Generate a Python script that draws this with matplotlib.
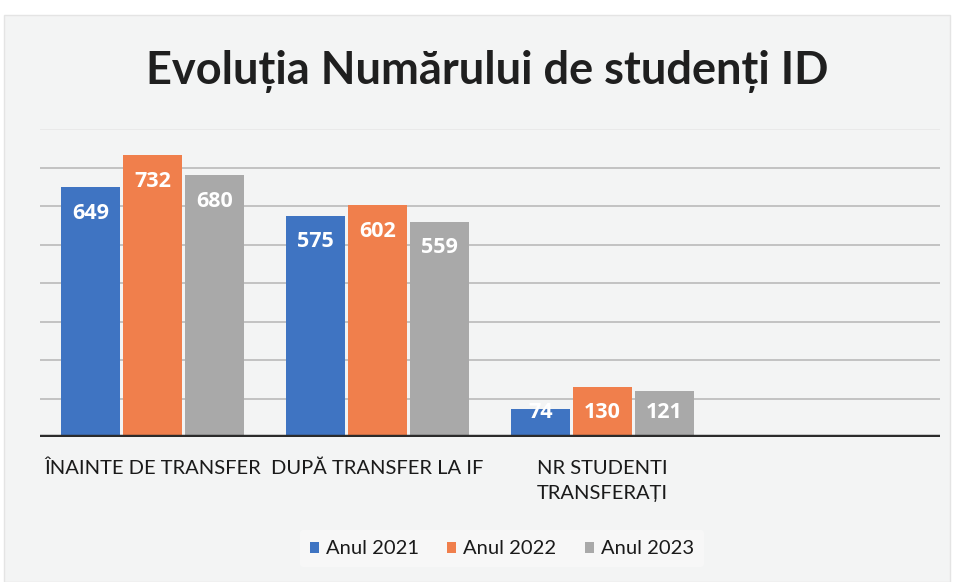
import matplotlib
matplotlib.use('Agg')

import numpy as np
import matplotlib.pyplot as plt
from matplotlib.patches import Rectangle

# chart data
categories = ["ÎNAINTE DE TRANSFER", "DUPĂ TRANSFER LA IF", "NR STUDENTI\nTRANSFERAȚI", ""]
series_names = ["Anul 2021", "Anul 2022", "Anul 2023"]
anul_2021 = [649, 575, 74]
anul_2022 = [732, 602, 130]
anul_2023 = [680, 559, 121]
colors = ["#3f74c2", "#f07f4c", "#a9a9a9"]

cal = ['Lato', 'DejaVu Sans']

fig = plt.figure(figsize=(9.56, 5.82), dpi=100, facecolor='white')
# chart area background (scan has a white margin at the top)
fig.patches.append(Rectangle((0.004, 0.0), 0.99, 0.975, transform=fig.transFigure,
                             facecolor='#f3f4f4', edgecolor='#e4e4e4', lw=1, zorder=-2))

ax = fig.add_axes([0.0418, 0.249, 0.9415, 0.529])
ax.set_facecolor('none')

x = np.arange(len(categories))
width = 0.262
step = 0.275
all_series = [anul_2021, anul_2022, anul_2023]
for i, (vals, name, c) in enumerate(zip(all_series, series_names, colors)):
    xs = x[:len(vals)] + (i - 1) * step
    ax.bar(xs, vals, width=width, color=c, label=name, zorder=3)
    for xi, v in zip(xs, vals):
        ax.text(xi, max(v - 67, 65), str(v), ha='center', va='center',
                color='white', fontsize=15.5, fontweight='bold',
                family=['Open Sans', 'DejaVu Sans'], zorder=4)

ax.set_xlim(-0.5, 3.5)
ax.set_ylim(0, 800)
ax.set_yticks(range(100, 801, 100))
ax.yaxis.grid(True, color='#b5b5b5', lw=1.1, zorder=0)
ax.get_ygridlines()[-1].set_color('#e6e6e6')
ax.axhline(0, color='#2b2b2b', lw=3.2, zorder=5)
ax.tick_params(axis='y', left=False, labelleft=False)
ax.tick_params(axis='x', bottom=False, pad=13)
ax.set_xticks(x)
ax.set_xticklabels(categories, fontsize=14.5, family=cal, color='#1a1a1a', linespacing=1.55)
for s in ax.spines.values():
    s.set_visible(False)

fig.text(0.51, 0.877, "Evoluția Numărului de studenți ID", ha='center', va='center',
         fontsize=32.5, fontweight='bold', family=cal, color='#1f1f1f')

leg = fig.legend(loc='center', bbox_to_anchor=(0.525, 0.057), ncol=3, frameon=True,
                 prop={'family': cal, 'size': 14.5}, handlelength=0.45, handleheight=0.45,
                 handletextpad=0.35, columnspacing=1.4, borderpad=0.5)
leg.get_frame().set_facecolor('#f9f9f9')
leg.get_frame().set_edgecolor('none')
for t in leg.get_texts():
    t.set_color('#1a1a1a')

fig.savefig('out.png', dpi=100)
